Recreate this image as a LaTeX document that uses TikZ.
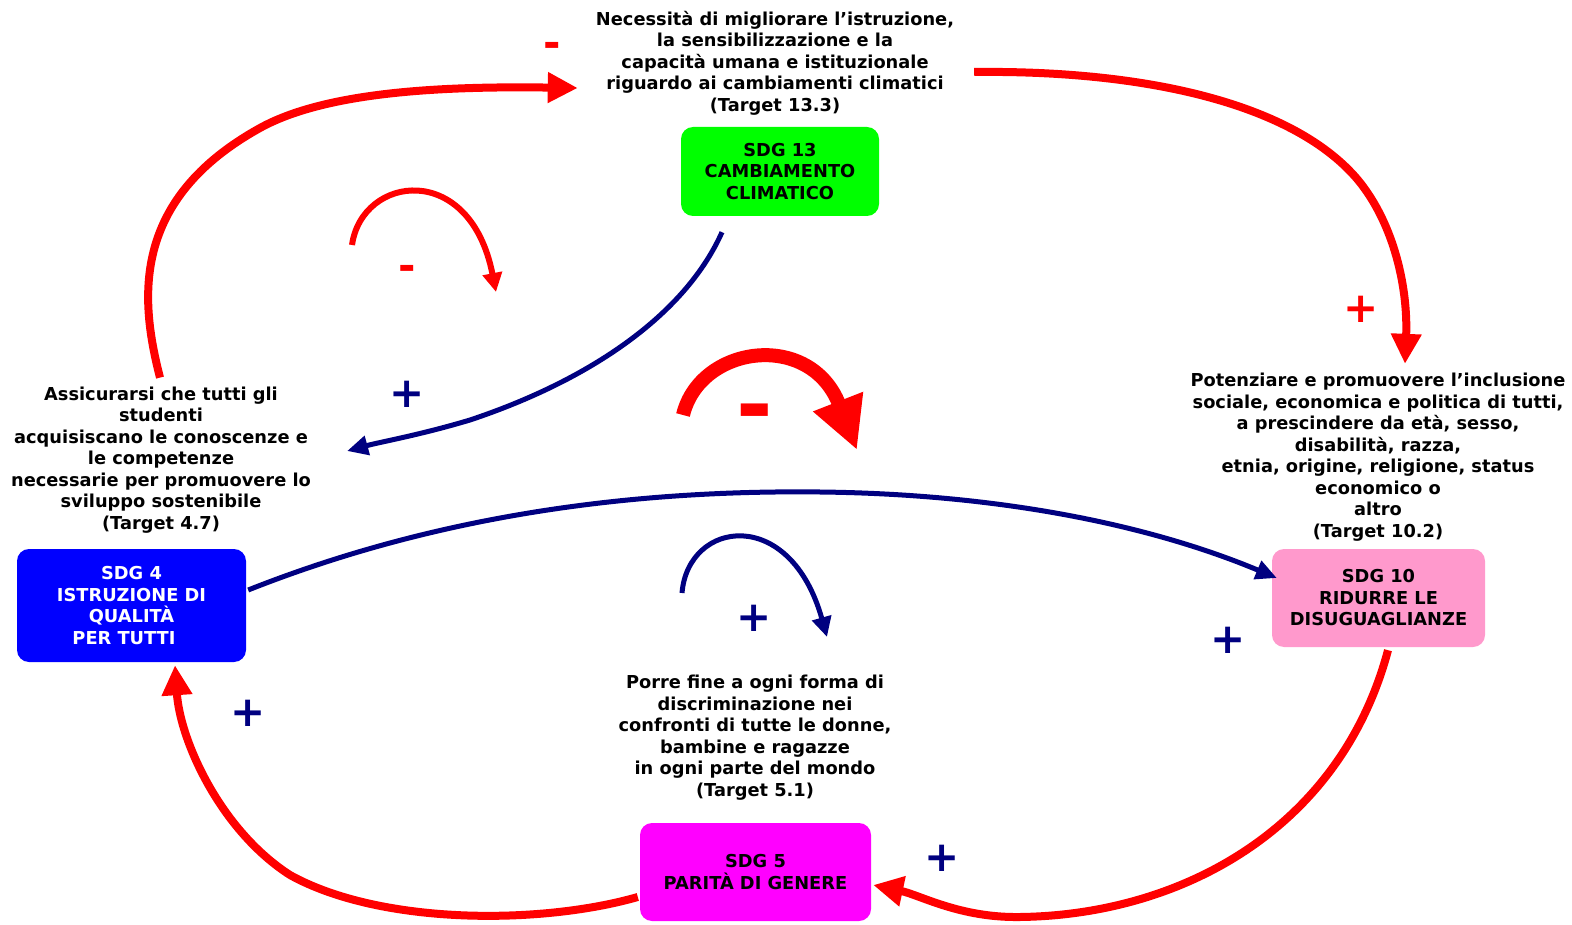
\documentclass[tikz,border=0pt]{standalone}
\usepackage{fontspec}
\setmainfont{DejaVu Sans}
\usetikzlibrary{arrows.meta}
\definecolor{vred}{HTML}{FF0000}
\definecolor{vnavy}{HTML}{000080}
\definecolor{vgreen}{HTML}{00FF00}
\definecolor{vblue}{HTML}{0000FF}
\definecolor{vpink}{HTML}{FF99CC}
\definecolor{vmagenta}{HTML}{FF00FF}

\begin{document}
\begin{tikzpicture}[x=1pt, y=-1pt,
		target/.style={align=center, inner sep=2pt, font=\fontsize{17.8}{21.5}\selectfont\bfseries},
		sdgbox/.style={target, rounded corners=12pt, inner sep=0pt},
		redlink/.style={color=vred, line width=8pt, -{Triangle[length=30pt, width=29pt]}},
		navylink/.style={color=vnavy, line width=5pt, -{Triangle[length=21pt, width=19pt]}},
		sign/.style={font=\fontsize{42}{42}\selectfont\bfseries, inner sep=0pt}]
		\useasboundingbox (0,0) rectangle (1572,925);
		% goals
		\node[sdgbox, fill=vgreen, minimum width=198pt, minimum height=89pt] (sdg13) at (780,171.5) {SDG 13\\CAMBIAMENTO\\CLIMATICO};
		\node[sdgbox, fill=vblue, text=white, minimum width=229pt, minimum height=113pt] (sdg4) at (131.5,605.5) {SDG 4\\ISTRUZIONE DI\\QUALITÀ\\PER TUTTI\hspace*{15pt}};
		\node[sdgbox, fill=vpink, minimum width=213pt, minimum height=98pt] (sdg10) at (1378.5,598) {SDG 10\\RIDURRE LE\\DISUGUAGLIANZE};
		\node[sdgbox, fill=vmagenta, minimum width=231pt, minimum height=98pt] (sdg5) at (755.5,872) {SDG 5\\PARITÀ DI GENERE};
		% targets
		\node[target] (t13) at (775,63) {Necessità di migliorare l’istruzione,\\la sensibilizzazione e la\\capacità umana e istituzionale\\riguardo ai cambiamenti climatici\\(Target 13.3)};
		\node[target] (t4) at (161,460) {Assicurarsi che tutti gli\\studenti\\acquisiscano le conoscenze e\\le competenze\\necessarie per promuovere lo\\sviluppo sostenibile\\(Target 4.7)};
		\node[target] (t10) at (1378,457) {Potenziare e promuovere l’inclusione\\sociale, economica e politica di tutti,\\a prescindere da età, sesso,\\disabilità, razza,\\etnia, origine, religione, status\\economico o\\altro\\(Target 10.2)};
		\node[target] (t5) at (755,737.5) {Porre fine a ogni forma di\\discriminazione nei\\confronti di tutte le donne,\\bambine e ragazze\\in ogni parte del mondo\\(Target 5.1)};
		% links
		\draw[redlink] ([shift={(-1pt,7pt)}]t4.north) .. controls (140,300) and (130,200) .. (260,128) .. controls (325,92) and (440,86) .. ([shift={(-16pt,-25pt)}]t13.west);
		\draw[redlink] ([shift={(18pt,-9pt)}]t13.east) .. controls (1150,70) and (1295,105) .. (1358,180) .. controls (1395,225) and (1408,290) .. ([shift={(27pt,7pt)}]t10.north);
		\draw[navylink] ([shift={(-58pt,-16pt)}]sdg13.south) .. controls (685,315) and (590,380) .. (470,420) .. controls (420,435) and (380,442) .. ([shift={(34pt,9pt)}]t4.east);
		\draw[navylink] ([shift={(2pt,15.5pt)}]sdg4.east) .. controls (450,510) and (650,490) .. (820,492) .. controls (1000,494) and (1150,525) .. ([shift={(5pt,20pt)}]sdg10.west);
		\draw[redlink] ([shift={(9.5pt,-3pt)}]sdg10.south) .. controls (1340,830) and (1180,915) .. (1020,917) .. controls (960,918) and (920,895) .. ([shift={(2pt,-13pt)}]sdg5.east);
		\draw[redlink] ([shift={(-2pt,-25pt)}]sdg5.west) .. controls (540,925) and (380,925) .. (290,875) .. controls (220,830) and (180,740) .. ([shift={(43.5pt,-3pt)}]sdg4.south);
		% loops
		\coordinate (A) at (352,245);
		\coordinate (B) at (496,292);
		\coordinate (C) at (683,415);
		\coordinate (D) at (857,450);
		\coordinate (E) at (682,593);
		\coordinate (F) at (827,637);
		\draw[color=vred, line width=6pt, -{Triangle[length=19pt, width=19pt]}] (A) .. controls (362,175) and (470,160) .. (B);
		\draw[color=vred, line width=14pt, -{Triangle[length=52pt, width=50pt]}] (C) .. controls (700,345) and (810,330) .. (D);
		\draw[color=vnavy, line width=5pt, -{Triangle[length=20pt, width=19pt]}] (E) .. controls (688,520) and (790,505) .. (F);
		% signs
		\node[sign, text=vred] (m1) at (552,50) {-};
		\node[sign, text=vred] (m2) at (407,273) {-};
		\node[sign, text=vred, font=\fontsize{88}{88}\selectfont\bfseries] (m3) at (755,419.5) {-};
		\node[sign, text=vred] (p1) at (1361,309) {+};
		\node[sign, text=vnavy] (p2) at (407,394) {+};
		\node[sign, text=vnavy] (p3) at (754,618) {+};
		\node[sign, text=vnavy] (p4) at (1228,640) {+};
		\node[sign, text=vnavy] (p5) at (248,713) {+};
		\node[sign, text=vnavy] (p6) at (942,858) {+};
\end{tikzpicture}
\end{document}
